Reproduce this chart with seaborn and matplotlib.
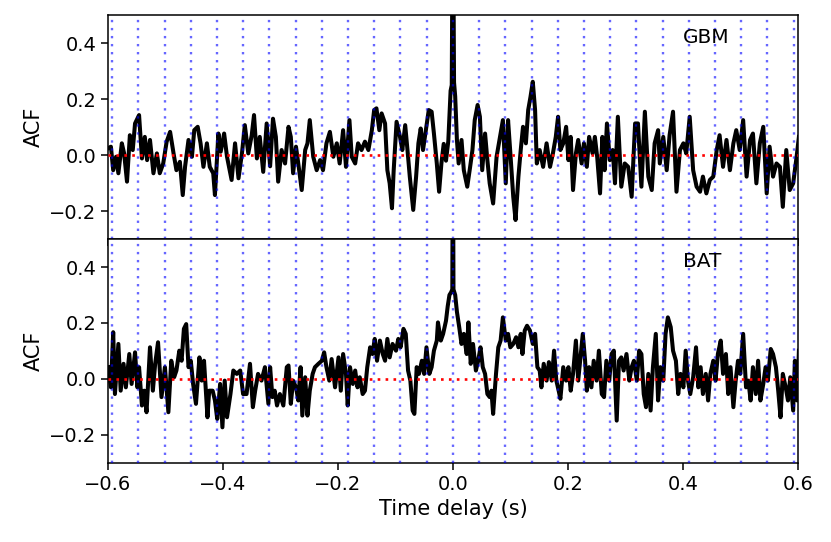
import matplotlib
matplotlib.use("Agg")
import matplotlib.pyplot as plt
import numpy as np
import pandas as pd
import seaborn as sns

plt.rcParams["font.size"] = 14
plt.rcParams["font.family"] = ["DejaVu Sans"]

# GBM autocorrelation (lag in s, ACF)
gbm_lag = [
    -0.600, -0.595, -0.591, -0.586, -0.582, -0.576, -0.572, -0.567, -0.562, -0.557,
    -0.553, -0.546, -0.541, -0.536, -0.532, -0.527, -0.521, -0.515, -0.510, -0.504,
    -0.498, -0.492, -0.486, -0.481, -0.475, -0.470, -0.466, -0.460, -0.454, -0.450,
    -0.444, -0.439, -0.434, -0.428, -0.423, -0.417, -0.414, -0.408, -0.404, -0.398,
    -0.393, -0.385, -0.379, -0.373, -0.367, -0.362, -0.356, -0.350, -0.346, -0.341,
    -0.336, -0.330, -0.324, -0.318, -0.313, -0.308, -0.304, -0.298, -0.292, -0.286,
    -0.282, -0.278, -0.273, -0.269, -0.263, -0.257, -0.253, -0.249, -0.243, -0.237,
    -0.231, -0.226, -0.220, -0.214, -0.208, -0.202, -0.197, -0.191, -0.186, -0.180,
    -0.176, -0.170, -0.165, -0.159, -0.153, -0.147, -0.141, -0.137, -0.133, -0.128,
    -0.124, -0.118, -0.114, -0.110, -0.106, -0.103, -0.098, -0.092, -0.088, -0.083,
    -0.079, -0.075, -0.069, -0.064, -0.060, -0.056, -0.052, -0.047, -0.042, -0.037,
    -0.033, -0.028, -0.024, -0.020, -0.016, -0.012, -0.008, -0.004, -0.002, 0.000,
    0.002, 0.004, 0.007, 0.010, 0.015, 0.019, 0.025, 0.030, 0.034, 0.038,
    0.043, 0.047, 0.051, 0.056, 0.060, 0.064, 0.070, 0.076, 0.082, 0.087,
    0.092, 0.096, 0.100, 0.105, 0.109, 0.114, 0.118, 0.122, 0.127, 0.131,
    0.135, 0.139, 0.143, 0.146, 0.151, 0.157, 0.163, 0.169, 0.174, 0.179,
    0.183, 0.187, 0.192, 0.197, 0.201, 0.205, 0.209, 0.214, 0.218, 0.224,
    0.228, 0.233, 0.237, 0.243, 0.247, 0.251, 0.256, 0.260, 0.264, 0.268,
    0.273, 0.278, 0.282, 0.287, 0.293, 0.299, 0.305, 0.311, 0.317, 0.322,
    0.328, 0.334, 0.340, 0.346, 0.351, 0.357, 0.360, 0.366, 0.372, 0.377,
    0.383, 0.389, 0.395, 0.401, 0.406, 0.412, 0.418, 0.424, 0.430, 0.435,
    0.441, 0.447, 0.453, 0.459, 0.464, 0.470, 0.476, 0.482, 0.488, 0.493,
    0.499, 0.505, 0.511, 0.517, 0.522, 0.528, 0.534, 0.540, 0.546, 0.551,
    0.557, 0.563, 0.569, 0.574, 0.580, 0.586, 0.592, 0.598, 0.602,
]
gbm_acf = [
    0.024, 0.030, -0.054, -0.006, -0.065, 0.042, 0.006, -0.095, 0.071, 0.018,
    0.113, 0.143, -0.012, 0.065, -0.018, 0.054, -0.065, 0.006, -0.065, -0.030,
    0.048, 0.083, 0.006, -0.054, -0.024, -0.143, -0.042, 0.054, -0.006, 0.089,
    0.101, 0.042, -0.042, 0.042, -0.042, -0.065, -0.143, 0.077, 0.012, 0.077,
    -0.006, -0.089, 0.042, -0.083, 0.006, 0.107, 0.006, 0.071, 0.143, -0.012,
    0.065, -0.060, 0.113, -0.040, 0.130, 0.065, -0.095, 0.018, -0.030, 0.101,
    0.065, -0.065, 0.030, -0.030, -0.125, 0.018, 0.042, 0.125, -0.006, -0.054,
    -0.018, -0.054, 0.042, 0.083, -0.006, 0.042, -0.030, 0.089, -0.042, 0.125,
    -0.006, -0.030, 0.042, 0.018, 0.048, 0.018, 0.089, 0.161, 0.167, 0.089,
    0.149, 0.113, -0.054, -0.101, -0.190, -0.054, 0.119, 0.065, 0.018, 0.107,
    0.018, -0.077, -0.196, -0.077, 0.042, 0.095, 0.018, 0.089, 0.161, 0.155,
    0.077, -0.030, -0.131, -0.030, 0.040, -0.020, 0.050, 0.230, 0.250, 1.000,
    0.260, 0.210, 0.054, -0.030, 0.054, -0.054, -0.113, -0.042, 0.018, 0.125,
    0.179, 0.137, -0.054, 0.077, -0.018, -0.101, -0.173, -0.006, 0.065, 0.125,
    -0.101, 0.125, 0.006, -0.149, -0.232, -0.077, 0.018, 0.101, 0.042, 0.161,
    0.208, 0.262, 0.161, -0.030, 0.018, -0.042, 0.042, -0.042, 0.006, 0.065,
    0.137, 0.018, 0.042, 0.101, -0.018, 0.065, -0.125, 0.006, 0.054, -0.030,
    0.042, -0.042, 0.065, 0.006, 0.065, -0.006, -0.137, 0.065, -0.054, 0.113,
    -0.018, 0.018, -0.101, 0.137, -0.113, -0.030, -0.042, -0.149, 0.113, 0.113,
    -0.113, 0.155, -0.077, -0.125, 0.042, 0.089, -0.030, 0.065, -0.054, 0.071,
    0.155, -0.131, 0.018, 0.042, 0.006, 0.137, -0.054, -0.113, -0.131, -0.077,
    -0.137, -0.089, -0.077, 0.018, 0.071, -0.042, 0.054, -0.054, 0.042, 0.089,
    0.018, 0.125, -0.077, 0.054, 0.077, -0.101, 0.042, 0.101, -0.137, 0.030,
    -0.077, -0.030, -0.042, -0.185, 0.018, -0.125, -0.101, -0.006, 0.065,
]

# BAT autocorrelation (lag in s, ACF)
bat_lag = [
    -0.600, -0.595, -0.591, -0.588, -0.582, -0.578, -0.573, -0.569, -0.563, -0.559,
    -0.553, -0.549, -0.546, -0.541, -0.537, -0.533, -0.527, -0.522, -0.518, -0.513,
    -0.507, -0.501, -0.495, -0.490, -0.485, -0.481, -0.476, -0.472, -0.468, -0.464,
    -0.460, -0.456, -0.452, -0.447, -0.441, -0.437, -0.433, -0.427, -0.424, -0.418,
    -0.414, -0.410, -0.405, -0.401, -0.397, -0.393, -0.387, -0.382, -0.376, -0.370,
    -0.365, -0.359, -0.353, -0.348, -0.344, -0.339, -0.333, -0.327, -0.321, -0.318,
    -0.314, -0.310, -0.306, -0.301, -0.295, -0.289, -0.286, -0.282, -0.278, -0.273,
    -0.269, -0.265, -0.262, -0.257, -0.253, -0.249, -0.244, -0.240, -0.234, -0.228,
    -0.224, -0.220, -0.215, -0.211, -0.205, -0.199, -0.195, -0.191, -0.186, -0.183,
    -0.179, -0.174, -0.170, -0.166, -0.162, -0.157, -0.153, -0.149, -0.144, -0.140,
    -0.136, -0.132, -0.127, -0.122, -0.118, -0.114, -0.110, -0.105, -0.099, -0.095,
    -0.091, -0.086, -0.082, -0.078, -0.074, -0.070, -0.067, -0.063, -0.059, -0.054,
    -0.050, -0.046, -0.041, -0.037, -0.033, -0.028, -0.026, -0.021, -0.017, -0.012,
    -0.009, -0.006, -0.003, -0.001, 0.000, 0.001, 0.004, 0.007, 0.011, 0.015,
    0.019, 0.024, 0.027, 0.031, 0.035, 0.040, 0.044, 0.048, 0.052, 0.056,
    0.060, 0.064, 0.067, 0.070, 0.075, 0.079, 0.083, 0.087, 0.092, 0.096,
    0.100, 0.105, 0.110, 0.114, 0.118, 0.121, 0.125, 0.129, 0.134, 0.139,
    0.143, 0.147, 0.151, 0.154, 0.158, 0.163, 0.167, 0.172, 0.176, 0.180,
    0.184, 0.187, 0.192, 0.197, 0.201, 0.205, 0.209, 0.214, 0.218, 0.222,
    0.226, 0.230, 0.233, 0.237, 0.241, 0.245, 0.250, 0.254, 0.259, 0.263,
    0.267, 0.272, 0.276, 0.280, 0.285, 0.289, 0.293, 0.297, 0.302, 0.307,
    0.311, 0.315, 0.320, 0.324, 0.328, 0.332, 0.336, 0.340, 0.344, 0.348,
    0.353, 0.357, 0.361, 0.366, 0.370, 0.374, 0.379, 0.383, 0.388, 0.392,
    0.396, 0.401, 0.405, 0.409, 0.413, 0.418, 0.423, 0.427, 0.431, 0.435,
    0.440, 0.444, 0.448, 0.453, 0.457, 0.461, 0.466, 0.470, 0.475, 0.479,
    0.483, 0.488, 0.492, 0.496, 0.500, 0.505, 0.510, 0.514, 0.518, 0.522,
    0.527, 0.531, 0.535, 0.540, 0.544, 0.548, 0.553, 0.557, 0.562, 0.566,
    0.570, 0.574, 0.579, 0.583, 0.587, 0.592, 0.595, 0.599, 0.602,
]
bat_acf = [
    0.042, -0.030, 0.167, -0.054, 0.125, -0.042, 0.054, -0.030, 0.089, -0.018,
    0.095, -0.030, 0.042, -0.095, -0.042, -0.119, 0.113, -0.042, 0.054, 0.131,
    -0.065, 0.042, -0.119, 0.065, 0.006, 0.030, 0.101, 0.065, 0.179, 0.196,
    0.042, 0.065, -0.018, -0.089, 0.077, -0.006, 0.065, -0.137, -0.042, -0.042,
    -0.077, -0.143, -0.018, -0.173, -0.006, -0.137, -0.054, 0.030, 0.018, 0.030,
    -0.054, -0.054, 0.054, -0.101, -0.042, 0.018, -0.006, 0.042, -0.089, 0.042,
    -0.065, -0.042, -0.095, -0.054, -0.095, 0.042, 0.048, -0.089, -0.006, -0.030,
    -0.077, 0.042, -0.131, 0.006, -0.131, -0.042, 0.018, 0.042, 0.054, 0.065,
    0.095, 0.042, -0.006, 0.071, -0.030, 0.077, -0.042, 0.089, 0.018, -0.095,
    0.042, -0.018, 0.030, -0.030, 0.006, -0.054, -0.042, 0.042, 0.113, 0.089,
    0.143, 0.065, 0.137, 0.089, 0.065, 0.143, 0.077, 0.125, 0.101, 0.143,
    0.113, 0.179, 0.161, 0.030, -0.006, -0.113, -0.125, 0.042, 0.018, 0.065,
    0.018, 0.113, 0.018, 0.042, 0.101, 0.137, 0.202, 0.137, 0.161, 0.208,
    0.260, 0.300, 0.310, 0.320, 1.000, 0.320, 0.300, 0.240, 0.185, 0.125,
    0.161, 0.089, 0.202, 0.054, 0.125, 0.030, 0.065, 0.113, 0.042, 0.018,
    -0.054, -0.065, -0.042, -0.125, 0.018, 0.113, 0.137, 0.220, 0.137, 0.161,
    0.113, 0.125, 0.149, 0.113, 0.161, 0.089, 0.173, 0.190, 0.173, 0.125,
    0.161, 0.042, 0.030, -0.030, 0.054, -0.006, 0.060, -0.006, 0.101, -0.006,
    -0.042, -0.071, 0.042, -0.006, 0.042, -0.042, 0.018, 0.137, -0.006, 0.077,
    0.161, 0.065, -0.042, 0.042, -0.030, 0.065, -0.006, 0.101, -0.054, -0.065,
    0.065, -0.006, 0.089, 0.101, -0.149, 0.065, 0.077, 0.030, 0.089, -0.006,
    0.042, 0.065, -0.006, 0.101, 0.089, -0.054, -0.101, 0.018, -0.113, 0.042,
    0.161, -0.077, 0.042, -0.006, 0.161, 0.220, 0.185, 0.101, 0.065, -0.054,
    0.018, -0.030, 0.101, -0.006, -0.054, 0.006, 0.113, -0.030, 0.042, -0.054,
    0.018, -0.077, 0.018, 0.065, -0.006, 0.089, 0.137, 0.018, 0.089, -0.054,
    0.042, -0.101, -0.006, 0.065, 0.018, 0.161, -0.030, -0.006, -0.077, 0.042,
    -0.054, 0.065, -0.077, -0.018, 0.042, -0.006, 0.107, 0.089, 0.042, -0.042,
    -0.137, 0.018, -0.030, -0.077, 0.006, -0.113, 0.065, -0.077, 0.101,
]

panels = [("GBM", gbm_lag, gbm_acf), ("BAT", bat_lag, bat_acf)]

# spacing of the blue marker lines (s)
period = 0.0456
marks = np.arange(-13, 14) * period

fig, axes = plt.subplots(2, 1, sharex=True, figsize=(8.31, 5.42), dpi=100)
fig.subplots_adjust(left=0.130, right=0.960, top=0.972, bottom=0.146, hspace=0)

for ax, (name, lag, acf) in zip(axes, panels):
    df = pd.DataFrame({"lag": lag, "acf": acf})
    sns.lineplot(data=df, x="lag", y="acf", color="black", lw=2.9,
                 estimator=None, sort=False, ax=ax, zorder=2)
    for m in marks:
        ax.axvline(m, color="blue", alpha=0.6, lw=1.7, ls=(0, (1, 2.4)), zorder=3)
    ax.axhline(0, color="red", lw=1.9, ls=(0, (1, 2.0)), zorder=4)
    ax.text(0.4, 0.4, name, fontsize=14.5)
    ax.set_xlim(-0.6, 0.6)
    ax.set_ylim(-0.3, 0.5)
    ax.set_yticks([-0.2, 0.0, 0.2, 0.4])
    ax.set_ylabel("ACF", fontsize=15)
    ax.set_xlabel("")
    ax.tick_params(direction="out", length=5, width=1.1, labelsize=14)
    for sp in ax.spines.values():
        sp.set_linewidth(1.1)

axes[1].set_xticks([-0.6, -0.4, -0.2, 0.0, 0.2, 0.4, 0.6])
axes[1].set_xlabel("Time delay (s)", fontsize=15)

fig.savefig("out.png", dpi=100)
